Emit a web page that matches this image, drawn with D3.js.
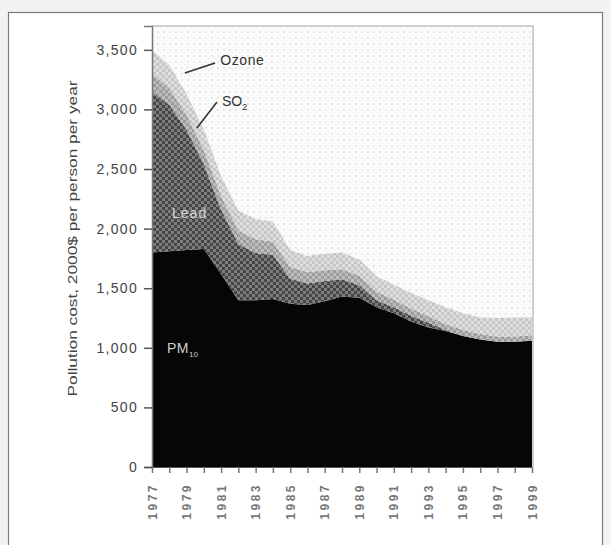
<!DOCTYPE html>
<html>
<head>
<meta charset="utf-8">
<script src="https://cdn.jsdelivr.net/npm/d3@7"></script>
<style>
  html, body { margin: 0; padding: 0; background: #f2f2f2; }
  svg { display: block; font-family: "Liberation Sans", Arial, sans-serif; }
</style>
</head>
<body>
<svg id="chart" width="611" height="545"></svg>
<script>
// ---- Data ----
const years = [1977,1978,1979,1980,1981,1982,1983,1984,1985,1986,1987,1988,1989,1990,1991,1992,1993,1994,1995,1996,1997,1998,1999];
const pm10  = [1800,1810,1820,1830,1620,1400,1400,1410,1370,1360,1390,1430,1420,1340,1290,1220,1170,1140,1100,1070,1050,1050,1060];
const lead  = [1350,1230,1010,710,540,470,395,370,210,180,170,145,105,60,50,50,40,10,0,0,0,0,0];
const so2   = [150,140,125,120,115,115,115,110,100,95,90,85,80,70,65,60,55,50,50,45,45,45,45];
const ozone = [200,190,175,170,165,165,170,170,140,135,140,140,135,130,125,130,135,140,140,140,155,160,150];
const seriesKeys = ["PM10", "Lead", "SO2", "Ozone"];
const yTickValues = [0,500,1000,1500,2000,2500,3000,3500];
const xTickLabels = ["1977","1979","1981","1983","1985","1987","1989","1991","1993","1995","1997","1999"];
const yTitle = "Pollution cost, 2000$ per person per year";

const table = years.map((yr, i) => ({year: yr, PM10: pm10[i], Lead: lead[i], SO2: so2[i], Ozone: ozone[i]}));

const svg = d3.select("#chart");
const W = 611, H = 545;

// page background + frame
svg.append("rect").attr("x", 0).attr("y", 0).attr("width", W).attr("height", H).attr("fill", "#f2f2f2");
svg.append("rect").attr("x", 8.5).attr("y", 12.5).attr("width", 594).attr("height", 545)
  .attr("fill", "#ffffff").attr("stroke", "#7a7a7a").attr("stroke-width", 1.2);

// patterns mimicking halftone screen
const defs = svg.append("defs");
function checker(id, base, alt, size) {
  const p = defs.append("pattern").attr("id", id).attr("patternUnits", "userSpaceOnUse")
    .attr("width", size * 2).attr("height", size * 2);
  p.append("rect").attr("width", size * 2).attr("height", size * 2).attr("fill", base);
  p.append("rect").attr("width", size).attr("height", size).attr("fill", alt);
  p.append("rect").attr("x", size).attr("y", size).attr("width", size).attr("height", size).attr("fill", alt);
}
checker("pLead", "#454545", "#7e7e7e", 3);
checker("pSO2", "#9c9c9c", "#bdbdbd", 3);
checker("pOzone", "#c6c6c6", "#dedede", 3);
const pb = defs.append("pattern").attr("id", "pBg").attr("patternUnits", "userSpaceOnUse").attr("width", 6).attr("height", 6);
pb.append("rect").attr("width", 6).attr("height", 6).attr("fill", "#fbfbfb");
pb.append("rect").attr("x", 1).attr("y", 1).attr("width", 2).attr("height", 2).attr("fill", "#e6e6e6");
pb.append("rect").attr("x", 4).attr("y", 4).attr("width", 1).attr("height", 1).attr("fill", "#ececec");

const fills = {PM10: "#060606", Lead: "url(#pLead)", SO2: "url(#pSO2)", Ozone: "url(#pOzone)"};

// scales
const x = d3.scaleLinear().domain([1977, 1999]).range([152, 532]);
const y = d3.scaleLinear().domain([0, 3700]).range([467, 26]);

// plot background
svg.append("rect").attr("x", x(1977)).attr("y", y(3700))
  .attr("width", x(1999) - x(1977) + 1).attr("height", y(0) - y(3700))
  .attr("fill", "url(#pBg)");
svg.append("path")
  .attr("d", `M${x(1977)},${y(3700)}H${x(1999) + 1}V${y(0)}`)
  .attr("fill", "none").attr("stroke", "#cfcfcf").attr("stroke-width", 2);

// stacked areas
const stack = d3.stack().keys(seriesKeys);
const layers = stack(table);
const area = d3.area()
  .x(d => x(d.data.year))
  .y0(d => y(d[0]))
  .y1(d => y(d[1]))
  .curve(d3.curveLinear);

svg.append("g").selectAll("path").data(layers).join("path")
  .attr("d", area)
  .attr("fill", d => fills[d.key]);

// y axis
const yAxis = d3.axisLeft(y).tickValues(yTickValues).tickFormat(d3.format(",")).tickSize(8).tickPadding(6);
const gy = svg.append("g").attr("transform", `translate(${x(1977)},0)`).call(yAxis);
gy.select(".domain").attr("stroke", "#777").attr("stroke-width", 1.5);
gy.selectAll(".tick line").attr("stroke", "#555").attr("stroke-width", 1.5);
gy.selectAll(".tick text").attr("fill", "#444").attr("font-size", 14).attr("letter-spacing", "1.3px")
  .attr("font-family", "Liberation Sans, Arial, sans-serif");

// x axis
const xAxis = d3.axisBottom(x).tickValues(years).tickFormat("").tickSize(6).tickSizeOuter(0);
const gx = svg.append("g").attr("transform", `translate(0,${y(0)})`).call(xAxis);
gx.select(".domain").attr("stroke", "#555").attr("stroke-width", 1);
gx.selectAll(".tick line").attr("stroke", "#777").attr("stroke-width", 1.5);

// rotated year labels
svg.append("g").selectAll("text").data(xTickLabels).join("text")
  .attr("transform", d => `translate(${x(+d) + 4.5},${y(0) + 16}) rotate(-90)`)
  .attr("text-anchor", "end")
  .attr("font-size", 12)
  .attr("font-weight", "bold")
  .attr("letter-spacing", "2.5px")
  .attr("fill", "#777")
  .text(d => d);

// y title
svg.append("text")
  .attr("transform", `translate(77,${(y(3700) + y(0)) / 2 - 8}) rotate(-90)`)
  .attr("text-anchor", "middle")
  .attr("font-size", 13)
  .attr("fill", "#444")
  .attr("textLength", 316)
  .attr("lengthAdjust", "spacingAndGlyphs")
  .text(yTitle);

// annotations (placed in data coordinates)
const annot = svg.append("g").attr("font-family", "Liberation Sans, Arial, sans-serif");
annot.append("line")
  .attr("x1", x(1978.9)).attr("y1", y(3305)).attr("x2", x(1980.65)).attr("y2", y(3389))
  .attr("stroke", "#333").attr("stroke-width", 1.6);
annot.append("text").attr("x", x(1980.95)).attr("y", y(3373))
  .attr("font-size", 14).attr("fill", "#333").attr("letter-spacing", "0.6px").text("Ozone");

annot.append("line")
  .attr("x1", x(1979.6)).attr("y1", y(2844)).attr("x2", x(1980.76)).attr("y2", y(3062))
  .attr("stroke", "#333").attr("stroke-width", 1.6);
const so2Text = annot.append("text").attr("x", x(1981.05)).attr("y", y(3029))
  .attr("font-size", 14).attr("fill", "#333");
so2Text.append("tspan").text("SO");
so2Text.append("tspan").attr("font-size", 9).attr("dy", 4).text("2");

annot.append("text").attr("x", x(1978.16)).attr("y", y(2089))
  .attr("font-size", 14).attr("fill", "#d8d8d8").attr("letter-spacing", "1px").text("Lead");

const pmText = annot.append("text").attr("x", x(1977.87)).attr("y", y(956))
  .attr("font-size", 14).attr("fill", "#cfcfcf");
pmText.append("tspan").attr("letter-spacing", "0.5px").text("PM");
pmText.append("tspan").attr("font-size", 8).attr("dy", 4).text("10");
</script>
</body>
</html>
